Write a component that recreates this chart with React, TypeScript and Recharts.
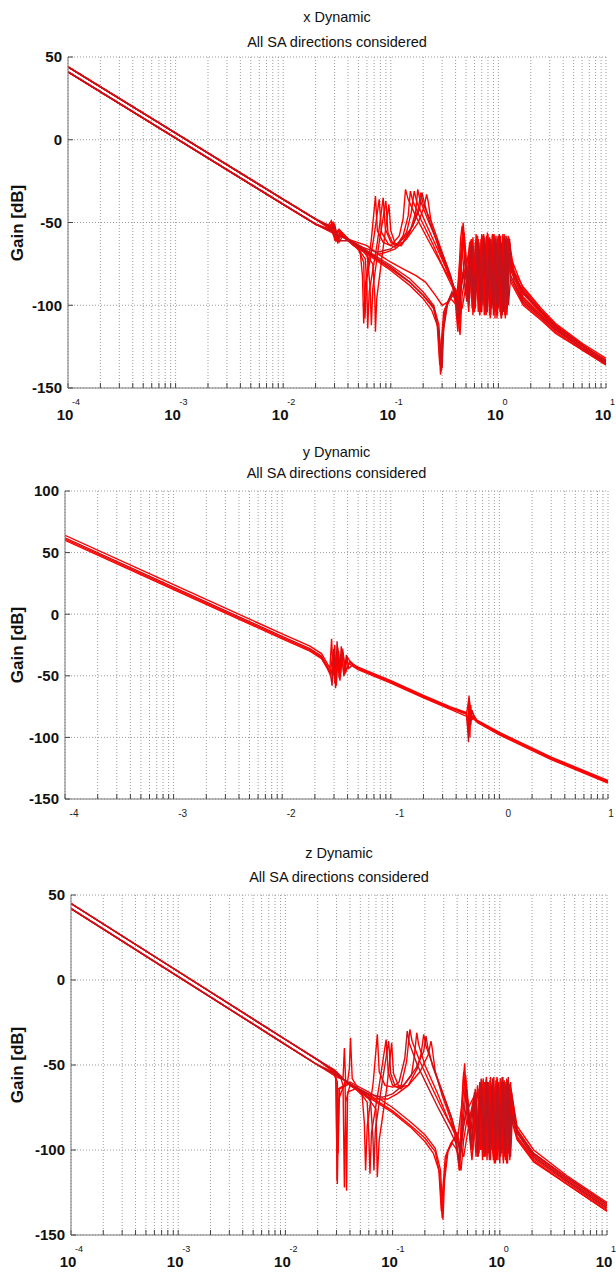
import { LineChart, Line, XAxis, YAxis, CartesianGrid } from 'recharts';

type Pt = [number, number];

const FONT = '"Liberation Sans", Arial, Helvetica, sans-serif';

// frequency axis: decades 1e-4 .. 1e1 with log minor steps
const decades = [0.0001, 0.001, 0.01, 0.1, 1, 10];
const decadeExponents = ['-4', '-3', '-2', '-1', '0', '1'];
const minorSteps = [1, 2, 3, 4, 5, 6, 7, 8, 9];

const gainTicksXZ = [-150, -100, -50, 0, 50];
const gainTicksY = [-150, -100, -50, 0, 50, 100];

// ---- x Dynamic: gain curves [Hz, dB] ----
const xCurve1: Pt[] = [
  [1e-4, 44], [1e-3, 4], [0.01, -36], [0.02, -48], [0.026, -52], [0.028, -49], [0.03, -60], [0.032, -55], [0.036, -59],
  [0.045, -63], [0.052, -68], [0.0545, -82], [0.056, -111], [0.058, -88], [0.066, -60], [0.072, -34], [0.075, -55],
  [0.085, -62], [0.1, -64], [0.12, -58], [0.13, -48], [0.137, -30], [0.145, -36], [0.17, -46], [0.22, -60], [0.3, -76],
  [0.37, -86], [0.42, -96], [0.445, -60], [0.46, -52], [0.5, -82], [0.54, -96], [0.57, -62], [0.6, -100], [0.64, -58],
  [0.68, -104], [0.72, -60], [0.76, -98], [0.8, -57], [0.85, -106], [0.9, -60], [0.95, -102], [1.0, -58], [1.06, -108],
  [1.12, -59], [1.18, -100], [1.24, -60], [1.3, -76], [1.7, -89], [2.5, -102], [3.4, -111], [6, -123], [10, -132],
];
const xCurve2: Pt[] = [
  [1e-4, 41], [1e-3, 1], [0.01, -39], [0.02, -51], [0.026, -54], [0.029, -51], [0.031, -61], [0.034, -56], [0.04, -61],
  [0.05, -66], [0.058, -72], [0.06, -90], [0.061, -114], [0.063, -92], [0.075, -62], [0.085, -35], [0.089, -54],
  [0.1, -62], [0.115, -64], [0.14, -56], [0.155, -44], [0.165, -31], [0.175, -38], [0.21, -50], [0.28, -68], [0.36, -84],
  [0.4, -92], [0.43, -110], [0.45, -70], [0.47, -50], [0.52, -86], [0.56, -60], [0.59, -104], [0.62, -57], [0.66, -98],
  [0.7, -59], [0.74, -106], [0.78, -58], [0.83, -100], [0.88, -57], [0.93, -108], [0.98, -60], [1.03, -100], [1.09, -58],
  [1.15, -106], [1.21, -60], [1.27, -62], [1.4, -80], [1.7, -93], [2.5, -104], [3.4, -113], [6, -124], [10, -134],
];
const xCurve3: Pt[] = [
  [1e-4, 41], [1e-3, 1], [0.01, -39], [0.02, -51], [0.027, -55], [0.03, -52], [0.032, -62], [0.035, -57], [0.042, -62],
  [0.055, -67], [0.068, -75], [0.071, -95], [0.072, -116], [0.074, -96], [0.085, -65], [0.096, -39], [0.1, -55],
  [0.11, -63], [0.13, -62], [0.16, -52], [0.18, -42], [0.19, -32], [0.2, -39], [0.24, -50], [0.3, -68], [0.36, -82],
  [0.41, -96], [0.44, -72], [0.48, -56], [0.53, -94], [0.58, -59], [0.61, -102], [0.65, -60], [0.69, -100], [0.73, -57],
  [0.77, -104], [0.82, -60], [0.87, -96], [0.91, -58], [0.97, -108], [1.02, -57], [1.08, -100], [1.14, -61], [1.2, -106],
  [1.25, -59], [1.29, -68], [1.4, -82], [1.7, -95], [2.5, -106], [3.4, -114], [6, -125], [10, -135],
];
const xCurve4: Pt[] = [
  [1e-4, 44], [1e-3, 4], [0.01, -36], [0.02, -48], [0.026, -53], [0.029, -50], [0.031, -59], [0.034, -56], [0.042, -61],
  [0.055, -66], [0.07, -70], [0.09, -68], [0.11, -66], [0.14, -60], [0.18, -50], [0.205, -40], [0.215, -33], [0.222, -37],
  [0.24, -52], [0.28, -66], [0.33, -78], [0.37, -86], [0.4, -100], [0.42, -116], [0.44, -80], [0.47, -55], [0.5, -78],
  [0.55, -61], [0.58, -98], [0.63, -58], [0.67, -106], [0.71, -60], [0.75, -100], [0.79, -56], [0.84, -104], [0.89, -60],
  [0.94, -98], [1.0, -58], [1.05, -106], [1.11, -60], [1.17, -102], [1.23, -58], [1.3, -72], [1.45, -84], [1.7, -91],
  [2.5, -104], [3.4, -112], [6, -124], [10, -134],
];
const xCurve5: Pt[] = [
  [1e-4, 44], [1e-3, 4], [0.01, -36], [0.02, -48], [0.027, -52], [0.029, -50], [0.031, -57], [0.033, -54], [0.04, -60],
  [0.06, -67], [0.1, -76], [0.15, -84], [0.2, -92], [0.25, -100], [0.28, -112], [0.295, -140], [0.305, -118], [0.33, -100],
  [0.36, -94], [0.4, -90], [0.43, -96], [0.46, -102], [0.5, -88], [0.54, -70], [0.57, -102], [0.61, -62], [0.65, -104],
  [0.69, -60], [0.74, -100], [0.78, -58], [0.83, -106], [0.88, -61], [0.93, -100], [0.99, -59], [1.04, -104], [1.1, -62],
  [1.16, -108], [1.22, -61], [1.28, -66], [1.4, -86], [1.7, -97], [2.5, -107], [3.4, -115], [6, -126], [10, -135],
];
const xCurve6: Pt[] = [
  [1e-4, 41], [1e-3, 1], [0.01, -39], [0.02, -51], [0.027, -54], [0.03, -51], [0.032, -60], [0.035, -56], [0.045, -63],
  [0.06, -68], [0.1, -78], [0.15, -86], [0.2, -94], [0.25, -102], [0.275, -114], [0.29, -142], [0.3, -120], [0.32, -102],
  [0.36, -96], [0.41, -100], [0.44, -118], [0.46, -94], [0.5, -80], [0.53, -104], [0.56, -64], [0.6, -100], [0.64, -60],
  [0.67, -106], [0.71, -58], [0.76, -102], [0.81, -60], [0.86, -98], [0.9, -57], [0.96, -106], [1.01, -60], [1.07, -100],
  [1.13, -57], [1.19, -104], [1.25, -62], [1.3, -84], [1.7, -99], [2.5, -108], [3.4, -116], [6, -127], [10, -136],
];
const xCurve7: Pt[] = [
  [1e-4, 41], [1e-3, 1], [0.01, -39], [0.02, -51], [0.028, -56], [0.03, -53], [0.033, -62], [0.036, -58], [0.045, -64],
  [0.06, -69], [0.1, -79], [0.15, -88], [0.2, -96], [0.24, -103], [0.27, -112], [0.285, -136], [0.295, -122], [0.31, -104],
  [0.35, -96], [0.39, -92], [0.42, -98], [0.45, -88], [0.5, -76], [0.55, -66], [0.59, -98], [0.63, -62], [0.66, -102],
  [0.7, -58], [0.75, -106], [0.8, -61], [0.84, -98], [0.89, -58], [0.94, -104], [1.0, -60], [1.05, -100], [1.1, -57],
  [1.16, -106], [1.22, -62], [1.3, -86], [1.7, -100], [2.5, -109], [3.4, -117], [6, -127], [10, -136],
];
const xCurve8: Pt[] = [
  [1e-4, 44], [1e-3, 4], [0.01, -36], [0.02, -48], [0.026, -53], [0.03, -56], [0.04, -60], [0.06, -64], [0.08, -70],
  [0.1, -74], [0.13, -78], [0.17, -82], [0.21, -86], [0.26, -94], [0.3, -100], [0.34, -98], [0.38, -94], [0.42, -100],
  [0.44, -112], [0.455, -70], [0.47, -58], [0.52, -90], [0.56, -74], [0.6, -102], [0.65, -62], [0.7, -100], [0.74, -60],
  [0.79, -104], [0.84, -62], [0.89, -100], [0.93, -59], [0.98, -106], [1.04, -58], [1.1, -102], [1.16, -60], [1.22, -98],
  [1.27, -63], [1.32, -76], [1.5, -86], [1.7, -93], [2.5, -105], [3.4, -113], [6, -124], [10, -134],
];
const xCurve9: Pt[] = [
  [1e-4, 44], [1e-3, 4], [0.01, -36], [0.02, -48], [0.027, -52], [0.03, -58], [0.033, -55], [0.04, -60], [0.05, -66],
  [0.056, -74], [0.0575, -108], [0.06, -84], [0.07, -58], [0.078, -36], [0.082, -56], [0.095, -63], [0.11, -65],
  [0.13, -58], [0.145, -46], [0.152, -31], [0.16, -37], [0.19, -48], [0.25, -64], [0.32, -80], [0.38, -90], [0.42, -104],
  [0.44, -84], [0.46, -66], [0.5, -94], [0.54, -62], [0.58, -106], [0.62, -61], [0.66, -102], [0.7, -57], [0.74, -100],
  [0.79, -59], [0.84, -108], [0.88, -58], [0.93, -100], [0.98, -61], [1.04, -104], [1.1, -59], [1.16, -100], [1.22, -62],
  [1.28, -70], [1.7, -90], [2.5, -103], [3.4, -112], [6, -124], [10, -133],
];
const xCurve10: Pt[] = [
  [1e-4, 41], [1e-3, 1], [0.01, -39], [0.02, -51], [0.028, -55], [0.031, -61], [0.035, -57], [0.045, -63], [0.06, -68],
  [0.064, -88], [0.066, -112], [0.068, -90], [0.078, -62], [0.09, -37], [0.094, -56], [0.105, -63], [0.125, -64],
  [0.15, -56], [0.17, -44], [0.178, -30], [0.186, -36], [0.22, -48], [0.28, -64], [0.34, -80], [0.4, -92], [0.43, -106],
  [0.45, -74], [0.48, -60], [0.52, -92], [0.56, -66], [0.6, -104], [0.63, -60], [0.68, -100], [0.72, -58], [0.77, -106],
  [0.82, -62], [0.86, -100], [0.91, -57], [0.96, -104], [1.01, -62], [1.07, -108], [1.13, -60], [1.19, -98], [1.26, -61],
  [1.32, -80], [1.7, -96], [2.5, -106], [3.4, -114], [6, -126], [10, -135],
];
const xCurve11: Pt[] = [
  [1e-4, 41], [1e-3, 1], [0.01, -39], [0.02, -51], [0.027, -55], [0.03, -52], [0.033, -61], [0.04, -61], [0.06, -68],
  [0.1, -77], [0.15, -86], [0.2, -94], [0.25, -101], [0.28, -116], [0.3, -138], [0.31, -114], [0.34, -98], [0.37, -92],
  [0.4, -96], [0.42, -108], [0.45, -90], [0.49, -70], [0.53, -100], [0.57, -64], [0.61, -98], [0.66, -62], [0.7, -104],
  [0.75, -59], [0.79, -100], [0.85, -60], [0.9, -106], [0.95, -58], [1.0, -102], [1.06, -62], [1.12, -104], [1.18, -58],
  [1.24, -100], [1.3, -82], [1.7, -98], [2.5, -107], [3.4, -115], [6, -126], [10, -135],
];
const xCurve12: Pt[] = [
  [1e-4, 44], [1e-3, 4], [0.01, -36], [0.02, -48], [0.026, -52], [0.03, -57], [0.04, -60], [0.055, -65], [0.075, -68],
  [0.1, -66], [0.13, -60], [0.16, -52], [0.185, -42], [0.195, -32], [0.205, -38], [0.23, -50], [0.28, -64], [0.34, -78],
  [0.39, -90], [0.42, -100], [0.44, -96], [0.47, -80], [0.51, -98], [0.55, -64], [0.59, -100], [0.64, -61], [0.68, -98],
  [0.73, -58], [0.78, -104], [0.83, -59], [0.87, -102], [0.92, -60], [0.97, -100], [1.03, -59], [1.09, -106], [1.15, -58],
  [1.21, -102], [1.27, -60], [1.32, -78], [1.7, -92], [2.5, -104], [3.4, -113], [6, -124], [10, -134],
];

// ---- y Dynamic ----
const yCurve1: Pt[] = [
  [1e-4, 64], [1e-3, 24], [0.01, -16], [0.018, -26], [0.023, -32], [0.026, -40], [0.0275, -44], [0.0285, -20],
  [0.0295, -50], [0.0305, -25], [0.0315, -58], [0.033, -30], [0.0345, -48], [0.036, -28], [0.038, -45], [0.04, -35],
  [0.043, -40], [0.05, -43], [0.1, -54], [0.2, -66], [0.35, -75], [0.5, -80], [0.525, -68], [0.535, -100], [0.545, -74],
  [0.56, -86], [0.58, -82], [0.62, -86], [1, -96], [3, -116], [10, -135],
];
const yCurve2: Pt[] = [
  [1e-4, 62], [1e-3, 22], [0.01, -18], [0.018, -28], [0.023, -34], [0.026, -42], [0.0278, -48], [0.0288, -58],
  [0.0298, -28], [0.031, -60], [0.032, -22], [0.0335, -52], [0.035, -26], [0.037, -50], [0.039, -33], [0.041, -44],
  [0.045, -41], [0.05, -44], [0.1, -55], [0.2, -67], [0.35, -76], [0.5, -81], [0.52, -104], [0.53, -70], [0.545, -90],
  [0.56, -78], [0.59, -84], [0.63, -87], [1, -97], [3, -117], [10, -136],
];
const yCurve3: Pt[] = [
  [1e-4, 60], [1e-3, 20], [0.01, -20], [0.018, -30], [0.023, -36], [0.026, -44], [0.028, -50], [0.0295, -40],
  [0.0305, -56], [0.032, -34], [0.034, -54], [0.0355, -36], [0.037, -49], [0.041, -40], [0.046, -43], [0.05, -45],
  [0.1, -56], [0.2, -68], [0.35, -77], [0.5, -83], [0.52, -90], [0.53, -72], [0.55, -84], [0.58, -85], [0.63, -88],
  [1, -98], [3, -118], [10, -137],
];
const yCurve4: Pt[] = [
  [1e-4, 61], [1e-3, 21], [0.01, -19], [0.018, -29], [0.023, -35], [0.026, -43], [0.0278, -47], [0.029, -35],
  [0.0308, -52], [0.0325, -27], [0.034, -44], [0.036, -31], [0.0385, -47], [0.042, -38], [0.047, -42], [0.05, -44],
  [0.1, -55], [0.2, -67], [0.35, -76], [0.5, -81], [0.515, -96], [0.525, -66], [0.54, -82], [0.57, -83], [0.63, -87],
  [1, -97], [3, -117], [10, -136],
];

// ---- z Dynamic ----
const zCurve1: Pt[] = [
  [1e-4, 45], [1e-3, 5], [0.01, -35], [0.02, -47], [0.028, -53], [0.0295, -58], [0.0305, -120], [0.0315, -70], [0.036, -60],
  [0.045, -64], [0.052, -68], [0.0545, -84], [0.056, -112], [0.058, -86], [0.066, -60], [0.072, -32], [0.075, -54],
  [0.085, -62], [0.1, -63], [0.12, -62], [0.135, -48], [0.145, -29], [0.152, -36], [0.18, -48], [0.22, -60], [0.28, -74],
  [0.34, -84], [0.39, -92], [0.43, -100], [0.45, -64], [0.47, -49], [0.5, -84], [0.56, -100], [0.62, -62], [0.66, -100],
  [0.7, -58], [0.74, -104], [0.78, -60], [0.83, -100], [0.88, -57], [0.93, -106], [0.98, -60], [1.04, -102], [1.1, -59],
  [1.16, -108], [1.22, -61], [1.28, -66], [1.45, -86], [2.07, -100], [4.2, -115], [10, -131],
];
const zCurve2: Pt[] = [
  [1e-4, 42], [1e-3, 2], [0.01, -38], [0.02, -50], [0.03, -55], [0.033, -58], [0.0345, -62], [0.0355, -122], [0.0365, -72],
  [0.04, -62], [0.05, -66], [0.058, -72], [0.06, -92], [0.0615, -114], [0.0635, -90], [0.075, -62], [0.087, -35],
  [0.091, -54], [0.1, -62], [0.12, -64], [0.15, -56], [0.16, -44], [0.168, -31], [0.175, -38], [0.2, -50], [0.26, -66],
  [0.33, -82], [0.39, -90], [0.42, -112], [0.44, -78], [0.46, -54], [0.52, -88], [0.58, -68], [0.63, -104], [0.67, -60],
  [0.71, -100], [0.75, -57], [0.8, -106], [0.85, -61], [0.9, -98], [0.95, -58], [1.0, -104], [1.06, -62], [1.12, -100],
  [1.18, -59], [1.24, -106], [1.29, -70], [1.45, -88], [2.07, -102], [4.2, -116], [10, -132],
];
const zCurve3: Pt[] = [
  [1e-4, 42], [1e-3, 2], [0.01, -38], [0.02, -50], [0.03, -56], [0.038, -60], [0.0395, -52], [0.0405, -34], [0.042, -58],
  [0.05, -66], [0.06, -70], [0.07, -76], [0.071, -96], [0.072, -116], [0.075, -94], [0.088, -64], [0.098, -37],
  [0.102, -55], [0.115, -63], [0.14, -62], [0.17, -52], [0.185, -43], [0.195, -32], [0.205, -39], [0.24, -51], [0.3, -68],
  [0.36, -82], [0.4, -96], [0.44, -74], [0.48, -56], [0.55, -96], [0.6, -66], [0.64, -102], [0.68, -59], [0.72, -104],
  [0.77, -62], [0.81, -98], [0.86, -58], [0.91, -108], [0.96, -60], [1.01, -100], [1.07, -57], [1.13, -106], [1.19, -62],
  [1.25, -102], [1.3, -74], [1.45, -90], [2.07, -104], [4.2, -118], [10, -134],
];
const zCurve4: Pt[] = [
  [1e-4, 45], [1e-3, 5], [0.01, -35], [0.02, -47], [0.028, -54], [0.0305, -60], [0.031, -102], [0.032, -64], [0.04, -61],
  [0.055, -66], [0.07, -70], [0.09, -70], [0.11, -67], [0.14, -62], [0.18, -54], [0.215, -44], [0.228, -36], [0.234, -40],
  [0.25, -54], [0.29, -68], [0.34, -80], [0.38, -90], [0.405, -104], [0.42, -112], [0.45, -80], [0.48, -60], [0.52, -82],
  [0.57, -70], [0.61, -98], [0.65, -60], [0.69, -106], [0.73, -62], [0.77, -98], [0.82, -57], [0.87, -104], [0.92, -61],
  [0.97, -100], [1.02, -58], [1.08, -108], [1.14, -62], [1.2, -100], [1.26, -60], [1.3, -76], [1.45, -88], [2.07, -103],
  [4.2, -117], [10, -133],
];
const zCurve5: Pt[] = [
  [1e-4, 45], [1e-3, 5], [0.01, -35], [0.02, -47], [0.029, -53], [0.0298, -62], [0.0303, -118], [0.031, -64], [0.04, -60],
  [0.06, -66], [0.1, -75], [0.15, -84], [0.2, -91], [0.25, -99], [0.28, -112], [0.295, -141], [0.305, -118], [0.33, -100],
  [0.36, -95], [0.4, -90], [0.43, -98], [0.46, -104], [0.5, -90], [0.56, -74], [0.6, -104], [0.64, -64], [0.68, -100],
  [0.72, -60], [0.76, -106], [0.81, -59], [0.86, -102], [0.91, -62], [0.96, -106], [1.01, -58], [1.06, -100], [1.12, -61],
  [1.18, -108], [1.24, -63], [1.29, -72], [1.45, -92], [2.07, -105], [4.2, -119], [10, -135],
];
const zCurve6: Pt[] = [
  [1e-4, 45], [1e-3, 5], [0.01, -35], [0.02, -47], [0.03, -54], [0.0345, -58], [0.0355, -40], [0.0365, -60], [0.045, -63],
  [0.06, -68], [0.1, -77], [0.15, -86], [0.2, -93], [0.25, -101], [0.275, -114], [0.29, -140], [0.3, -120], [0.32, -102],
  [0.36, -96], [0.4, -100], [0.435, -112], [0.46, -94], [0.5, -80], [0.55, -106], [0.6, -72], [0.63, -100], [0.67, -62],
  [0.71, -104], [0.75, -59], [0.79, -100], [0.84, -62], [0.89, -108], [0.94, -57], [0.99, -100], [1.04, -60], [1.1, -104],
  [1.16, -58], [1.22, -100], [1.27, -64], [1.32, -82], [1.45, -93], [2.07, -106], [4.2, -120], [10, -136],
];
const zCurve7: Pt[] = [
  [1e-4, 42], [1e-3, 2], [0.01, -38], [0.02, -50], [0.03, -57], [0.036, -59], [0.0372, -124], [0.038, -66], [0.045, -64],
  [0.06, -69], [0.1, -78], [0.15, -87], [0.2, -95], [0.24, -102], [0.27, -112], [0.285, -136], [0.295, -122], [0.31, -104],
  [0.35, -96], [0.39, -92], [0.42, -98], [0.45, -88], [0.5, -76], [0.58, -68], [0.62, -100], [0.66, -64], [0.7, -104],
  [0.74, -60], [0.78, -102], [0.83, -63], [0.87, -106], [0.92, -59], [0.97, -100], [1.02, -62], [1.08, -106], [1.14, -60],
  [1.2, -102], [1.26, -63], [1.31, -84], [1.45, -94], [2.07, -107], [4.2, -120], [10, -136],
];
const zCurve8: Pt[] = [
  [1e-4, 42], [1e-3, 2], [0.01, -38], [0.02, -50], [0.03, -56], [0.04, -61], [0.05, -65], [0.062, -70], [0.0655, -92],
  [0.067, -112], [0.069, -88], [0.08, -60], [0.092, -36], [0.096, -55], [0.105, -62], [0.115, -60], [0.13, -46],
  [0.137, -30], [0.143, -37], [0.17, -50], [0.21, -62], [0.27, -76], [0.34, -88], [0.39, -96], [0.42, -108], [0.45, -86],
  [0.49, -64], [0.53, -94], [0.58, -66], [0.62, -104], [0.66, -61], [0.7, -98], [0.75, -58], [0.8, -104], [0.85, -60],
  [0.9, -100], [0.95, -62], [1.0, -108], [1.05, -57], [1.11, -102], [1.17, -60], [1.23, -104], [1.29, -66], [1.45, -90],
  [2.07, -104], [4.2, -118], [10, -134],
];
const zCurve9: Pt[] = [
  [1e-4, 45], [1e-3, 5], [0.01, -35], [0.02, -47], [0.028, -53], [0.034, -58], [0.045, -63], [0.06, -67], [0.08, -69],
  [0.1, -67], [0.13, -61], [0.165, -52], [0.195, -42], [0.205, -33], [0.212, -39], [0.24, -52], [0.29, -66], [0.35, -80],
  [0.4, -92], [0.43, -104], [0.46, -86], [0.5, -70], [0.54, -100], [0.59, -64], [0.63, -96], [0.67, -58], [0.72, -102],
  [0.77, -60], [0.82, -106], [0.86, -58], [0.91, -100], [0.96, -61], [1.02, -104], [1.08, -60], [1.14, -100], [1.2, -57],
  [1.26, -104], [1.31, -80], [1.45, -89], [2.07, -102], [4.2, -116], [10, -132],
];

const xCurves = [xCurve1, xCurve2, xCurve3, xCurve4, xCurve5, xCurve6, xCurve7, xCurve8, xCurve9, xCurve10, xCurve11, xCurve12];
const yCurves = [yCurve1, yCurve2, yCurve3, yCurve4];
const zCurves = [zCurve1, zCurve2, zCurve3, zCurve4, zCurve5, zCurve6, zCurve7, zCurve8, zCurve9];

const RED = '#ff0000';
const DARK = '#c0141e';
const xColors = [RED, RED, RED, RED, '#ee0a0a', RED, RED, RED, RED, RED, DARK, DARK];
const yColors = [RED, DARK, RED, RED];
const zColors = [RED, RED, RED, RED, '#ee0a0a', RED, RED, DARK, DARK];

const freqTicks = decades
  .slice(0, -1)
  .flatMap((d) => minorSteps.map((m) => d * m))
  .concat([decades[decades.length - 1]]);

const decadeIndex = (v: number) => decades.findIndex((d) => Math.abs(v / d - 1) < 1e-6);

// "10" with a raised exponent, only on whole decades
const PowerTick = (props: any) => {
  const { x, y, payload } = props;
  const i = decadeIndex(payload.value);
  if (i < 0) return null;
  return (
    <g fontFamily={FONT} fill="#111">
      <text x={x - 3} y={y + 32} textAnchor="middle" fontSize={15} fontWeight="bold">10</text>
      <text x={x + 4} y={y + 17} fontSize={9}>{decadeExponents[i]}</text>
    </g>
  );
};

// bare exponent labels, kept inside the page on the right
const ExponentTick = (props: any) => {
  const { x, y, payload } = props;
  const i = decadeIndex(payload.value);
  if (i < 0) return null;
  return (
    <text x={Math.min(x + 9, 611)} y={y + 18} textAnchor="middle" fontSize={10} fontFamily={FONT} fill="#222">
      {decadeExponents[i]}
    </text>
  );
};

type PanelSpec = {
  top: number;
  height: number;
  plotLeft: number;
  plotRight: number;
  plotTop: number;
  plotBottom: number;
  title: string;
  titleY: number;
  subtitleY: number;
  yDomain: [number, number];
  yTicks: number[];
  curves: Pt[][];
  colors: string[];
  exponentLabels?: boolean;
};

const W = 616;
const BOX = '#7a7a7a';

const BodePanel = ({ spec }: { spec: PanelSpec }) => {
  const { top, height, plotLeft, plotRight, plotTop, plotBottom } = spec;
  const cx = (plotLeft + plotRight) / 2;
  const cy = (plotTop + plotBottom) / 2;
  return (
    <div style={{ position: 'absolute', left: 0, top, width: W, height }}>
      <div style={{ position: 'absolute', left: cx - 200, width: 400, top: spec.titleY - 9, lineHeight: '18px', textAlign: 'center', fontSize: 14.5, color: '#111' }}>
        {spec.title}
      </div>
      <div style={{ position: 'absolute', left: cx - 200, width: 400, top: spec.subtitleY - 9, lineHeight: '18px', textAlign: 'center', fontSize: 14.5, color: '#111' }}>
        All SA directions considered
      </div>
      <div style={{ position: 'absolute', left: 18 - 60, top: cy - 11, width: 120, lineHeight: '22px', textAlign: 'center', fontSize: 17, fontWeight: 'bold', color: '#111', transform: 'rotate(-90deg)' }}>
        Gain [dB]
      </div>
      <LineChart width={W} height={height} margin={{ top: plotTop, right: W - plotRight, bottom: 0, left: 0 }}>
        <CartesianGrid stroke="#9c9c9c" strokeDasharray="1 2" />
        <XAxis
          dataKey="f"
          type="number"
          scale="log"
          domain={[decades[0], decades[decades.length - 1]]}
          allowDataOverflow
          ticks={freqTicks}
          interval={0}
          height={height - plotBottom}
          tickSize={-5}
          tickMargin={5}
          axisLine={{ stroke: BOX }}
          tickLine={{ stroke: '#444' }}
          tick={spec.exponentLabels ? <ExponentTick /> : <PowerTick />}
        />
        <XAxis
          xAxisId="top"
          orientation="top"
          type="number"
          scale="log"
          domain={[decades[0], decades[decades.length - 1]]}
          allowDataOverflow
          ticks={freqTicks}
          interval={0}
          height={0}
          tickSize={-5}
          tick={false}
          axisLine={{ stroke: BOX }}
          tickLine={{ stroke: '#444' }}
        />
        <YAxis
          type="number"
          domain={spec.yDomain}
          allowDataOverflow
          ticks={spec.yTicks}
          interval={0}
          width={plotLeft}
          tickSize={-5}
          tickMargin={11}
          axisLine={{ stroke: BOX }}
          tickLine={{ stroke: '#444' }}
          tick={{ fontSize: 15, fontWeight: 'bold', fill: '#111', fontFamily: FONT }}
        />
        <YAxis
          yAxisId="right"
          orientation="right"
          type="number"
          domain={spec.yDomain}
          allowDataOverflow
          ticks={spec.yTicks}
          interval={0}
          width={0}
          tickSize={-5}
          tick={false}
          axisLine={{ stroke: BOX }}
          tickLine={{ stroke: '#444' }}
        />
        {spec.curves.map((c, i) => (
          <Line
            key={i}
            data={c.map(([f, g]) => ({ f, g }))}
            dataKey="g"
            type="linear"
            stroke={spec.colors[i % spec.colors.length]}
            strokeWidth={1.4}
            dot={false}
            activeDot={false}
            isAnimationActive={false}
          />
        ))}
      </LineChart>
    </div>
  );
};

const panels: PanelSpec[] = [
  {
    top: 0, height: 440, plotLeft: 68, plotRight: 606, plotTop: 57, plotBottom: 388,
    title: 'x Dynamic', titleY: 17, subtitleY: 42,
    yDomain: [-150, 50], yTicks: gainTicksXZ, curves: xCurves, colors: xColors,
  },
  {
    top: 420, height: 420, plotLeft: 65, plotRight: 608, plotTop: 71, plotBottom: 379,
    title: 'y Dynamic', titleY: 32, subtitleY: 53,
    yDomain: [-150, 100], yTicks: gainTicksY, curves: yCurves, colors: yColors, exponentLabels: true,
  },
  {
    top: 840, height: 435, plotLeft: 71, plotRight: 607, plotTop: 55, plotBottom: 395,
    title: 'z Dynamic', titleY: 13, subtitleY: 37,
    yDomain: [-150, 50], yTicks: gainTicksXZ, curves: zCurves, colors: zColors,
  },
];

export default function App() {
  return (
    <div style={{ position: 'absolute', left: 0, top: 0, width: W, height: 1275, background: '#fff', overflow: 'hidden', fontFamily: FONT }}>
      {panels.map((p) => (
        <BodePanel key={p.title} spec={p} />
      ))}
    </div>
  );
}
